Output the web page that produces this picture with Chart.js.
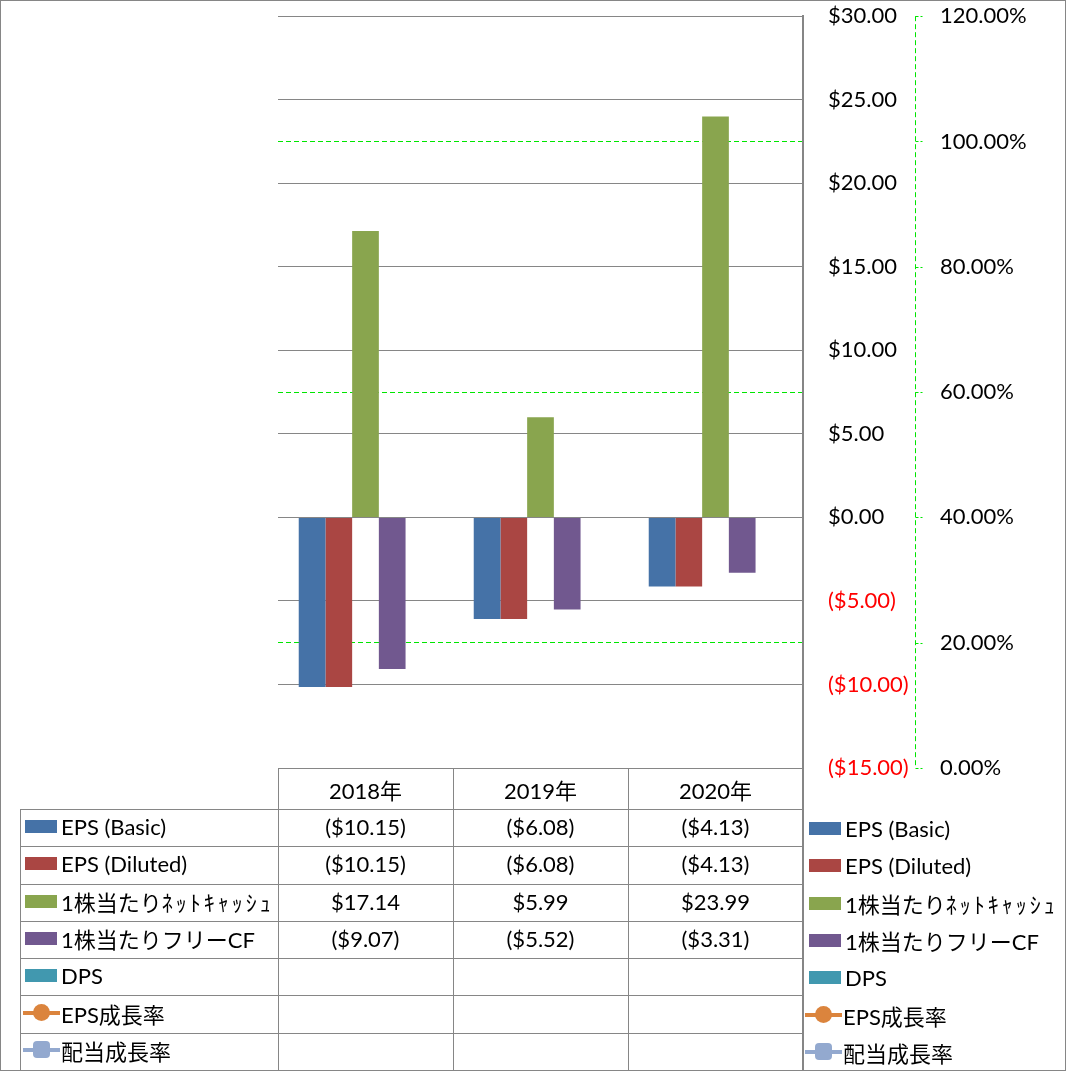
<!DOCTYPE html>
<html>
<head>
<meta charset="utf-8">
<script src="https://cdn.jsdelivr.net/npm/chart.js@4.4.0/dist/chart.umd.min.js"></script>
<style>
  html, body { margin: 0; padding: 0; background: #fff; }
  #wrap { position: relative; width: 1066px; height: 1071px; overflow: hidden; background: #fff;
          font-family: Lato, "Noto Sans CJK JP", sans-serif; font-size: 22px; color: #000; }
  #c { position: absolute; left: 0; top: 0; }
  .hl, .vl { position: absolute; background: #868686; }
  .cell { position: absolute; display: flex; align-items: center; justify-content: center; white-space: nowrap; }
  .lab { position: absolute; display: flex; align-items: center; white-space: nowrap; }
  .sw { display: inline-block; width: 32px; height: 13px; margin-right: 4px; flex: none; }
  .mk { position: relative; display: inline-block; width: 37px; height: 18px; margin-right: 1px; flex: none; }
  .mk .ln { position: absolute; left: 0; top: 7px; width: 37px; height: 4px; }
  .mk .dot { position: absolute; left: 10px; top: 0; width: 17px; height: 17px; }
  .hw { letter-spacing: 3px; }
  #frame { position: absolute; left: 0; top: 0; width: 1066px; height: 1071px; box-sizing: border-box;
           border: 1px solid #868686; pointer-events: none; }
</style>
</head>
<body>
<div id="wrap">
  <canvas id="c" width="1066" height="1071"></canvas>
  <div id="table"></div>
  <div id="frame"></div>
</div>
<script>
// ---- data ----
const categories = ['2018年', '2019年', '2020年'];
const epsBasic = [-10.15, -6.08, -4.13];
const epsDiluted = [-10.15, -6.08, -4.13];
const netCashPerShare = [17.14, 5.99, 23.99];
const freeCfPerShare = [-9.07, -5.52, -3.31];
const dps = [null, null, null];
const epsGrowth = [null, null, null];
const dividendGrowth = [null, null, null];
const seriesNames = ['EPS (Basic)', 'EPS (Diluted)', '1株当たりﾈｯﾄｷｬｯｼｭ', '1株当たりフリーCF', 'DPS', 'EPS成長率', '配当成長率'];
const seriesColors = ['#4572A7', '#AA4643', '#89A54E', '#71588F', '#4198AF', '#DB843D', '#93A9CF'];
const leftAxisRange = [-15, 30, 5];
const rightAxisRange = [0, 120, 20];

function fmtMoney(v) {
  if (v === null || v === undefined) return '';
  const s = '$' + Math.abs(v).toFixed(2);
  return v < 0 ? '(' + s + ')' : s;
}
function fmtPct(v) { return v.toFixed(2) + '%'; }

const FONT = { family: 'Lato, "Noto Sans CJK JP", sans-serif', size: 22 };
const GRAY = '#868686';
const GREEN = '#00e600';
const CLEAR = 'rgba(0,0,0,0)';

// secondary axis: dashed green axis line and short dashed tick marks
const dashedAxisPlugin = {
  id: 'dashedAxis',
  afterDraw(chart) {
    const s = chart.scales.y2;
    const ctx = chart.ctx;
    const x = Math.round(s.left) + 0.5;
    ctx.save();
    ctx.strokeStyle = GREEN;
    ctx.lineWidth = 1;
    ctx.setLineDash([5, 3]);
    ctx.beginPath();
    ctx.moveTo(x, s.top);
    ctx.lineTo(x, s.bottom);
    ctx.stroke();
    ctx.setLineDash([3, 2]);
    s.ticks.forEach(t => {
      const y = Math.round(s.getPixelForValue(t.value)) + 0.5;
      ctx.beginPath();
      ctx.moveTo(x, y);
      ctx.lineTo(x + 7, y);
      ctx.stroke();
    });
    ctx.restore();
  }
};

const allSeries = [epsBasic, epsDiluted, netCashPerShare, freeCfPerShare, dps];
const datasets = allSeries.map((d, i) => ({
  type: 'bar', label: seriesNames[i], data: d, backgroundColor: seriesColors[i],
  yAxisID: 'y', barPercentage: 1.0, categoryPercentage: 0.763, order: 2
}));
datasets.push({ type: 'line', label: seriesNames[5], data: epsGrowth, yAxisID: 'y2',
  borderColor: seriesColors[5], backgroundColor: seriesColors[5], pointRadius: 8, borderWidth: 4, order: 1 });
datasets.push({ type: 'line', label: seriesNames[6], data: dividendGrowth, yAxisID: 'y2',
  borderColor: seriesColors[6], backgroundColor: seriesColors[6], pointStyle: 'rectRounded', pointRadius: 8, borderWidth: 4, order: 1 });

const chart = new Chart(document.getElementById('c'), {
  data: { labels: categories, datasets },
  options: {
    responsive: false,
    animation: false,
    layout: { padding: { left: 278, top: 16, right: 0, bottom: 303 } },
    plugins: { legend: { display: false }, tooltip: { enabled: false } },
    scales: {
      x: { display: false },
      y: {
        position: 'right', min: leftAxisRange[0], max: leftAxisRange[1],
        ticks: { stepSize: leftAxisRange[2], padding: 3, font: FONT,
                 color: ctx => (ctx.tick && ctx.tick.value < 0 ? '#ff0000' : '#000000'),
                 callback: v => fmtMoney(v) },
        grid: { color: GRAY, lineWidth: 1, drawTicks: true, tickLength: 22, tickColor: CLEAR },
        border: { display: true, color: GRAY, width: 2 },
        afterFit: s => { s.width = 112; }
      },
      y2: {
        position: 'right', min: rightAxisRange[0], max: rightAxisRange[1], z: -1,
        ticks: { stepSize: rightAxisRange[2], padding: 3, font: FONT, color: '#000', callback: v => fmtPct(v) },
        grid: { color: ctx => (ctx.tick && Math.round(ctx.tick.value) % 40 === 20 ? GREEN : CLEAR),
                lineWidth: 1, drawTicks: true, tickLength: 22, tickColor: CLEAR },
        border: { display: false, dash: [5, 3] },
        afterFit: s => { s.width = 151; }
      }
    }
  },
  plugins: [dashedAxisPlugin]
});

// ---- data table + legend (built from the same arrays and the chart's x-scale) ----
const tbl = document.getElementById('table');
const area = chart.chartArea;
const colW = (area.right - area.left) / categories.length;
const colEdges = categories.map((_, i) => area.left + i * colW).concat([area.right]);
const headTop = area.bottom;
const headBottom = 809;
const rowH = (1070 - headBottom) / seriesNames.length;
const labelLeft = 20;

function add(cls, style, html) {
  const d = document.createElement('div');
  d.className = cls;
  Object.assign(d.style, style);
  if (html !== undefined) d.innerHTML = html;
  tbl.appendChild(d);
  return d;
}
function px(v) { return v + 'px'; }
function nameHtml(name) {
  return name.replace(/([\uFF61-\uFF9F]+)/g, '<span class="hw">$1</span>');
}

// header row
categories.forEach((c, i) => {
  add('cell', { left: px(colEdges[i]), top: px(headTop), width: px(colW), height: px(headBottom - headTop) }, c);
});
// horizontal lines
add('hl', { left: px(colEdges[0]), top: px(Math.round(headTop)), width: px(colEdges[3] - colEdges[0]), height: '1px' });
for (let r = 0; r <= seriesNames.length - 1; r++) {
  const y = Math.round(headBottom + r * rowH);
  add('hl', { left: px(labelLeft), top: px(y), width: px(colEdges[3] - labelLeft), height: '1px' });
}
// vertical lines
add('vl', { left: px(labelLeft), top: px(headBottom), width: '1px', height: px(1071 - headBottom) });
colEdges.forEach((x, i) => {
  add('vl', { left: px(Math.round(x) - (i === 3 ? 1 : 0)), top: px(Math.round(headTop)), width: i === 3 ? '2px' : '1px', height: px(1071 - headTop) });
});

function markerHtml(i) {
  if (i < 5) return '<span class="sw" style="background:' + seriesColors[i] + '"></span>';
  const round = i === 5 ? '50%' : '4px';
  return '<span class="mk"><span class="ln" style="background:' + seriesColors[i] + '"></span>' +
         '<span class="dot" style="background:' + seriesColors[i] + ';border-radius:' + round + '"></span></span>';
}

const tableSeries = [epsBasic, epsDiluted, netCashPerShare, freeCfPerShare, dps, epsGrowth, dividendGrowth];
seriesNames.forEach((name, r) => {
  const top = headBottom + r * rowH;
  const isLine = r >= 5;
  add('lab', { left: px(labelLeft + (isLine ? 3 : 5)), top: px(top - 1), height: px(rowH) }, markerHtml(r) + '<span>' + nameHtml(name) + '</span>');
  tableSeries[r].forEach((v, c) => {
    add('cell', { left: px(colEdges[c]), top: px(top - 1), width: px(colW), height: px(rowH) }, fmtMoney(v));
  });
  add('lab', { left: px(isLine ? 805 : 809), top: px(top + 1), height: px(rowH) }, markerHtml(r) + '<span>' + nameHtml(name) + '</span>');
});
</script>
</body>
</html>
